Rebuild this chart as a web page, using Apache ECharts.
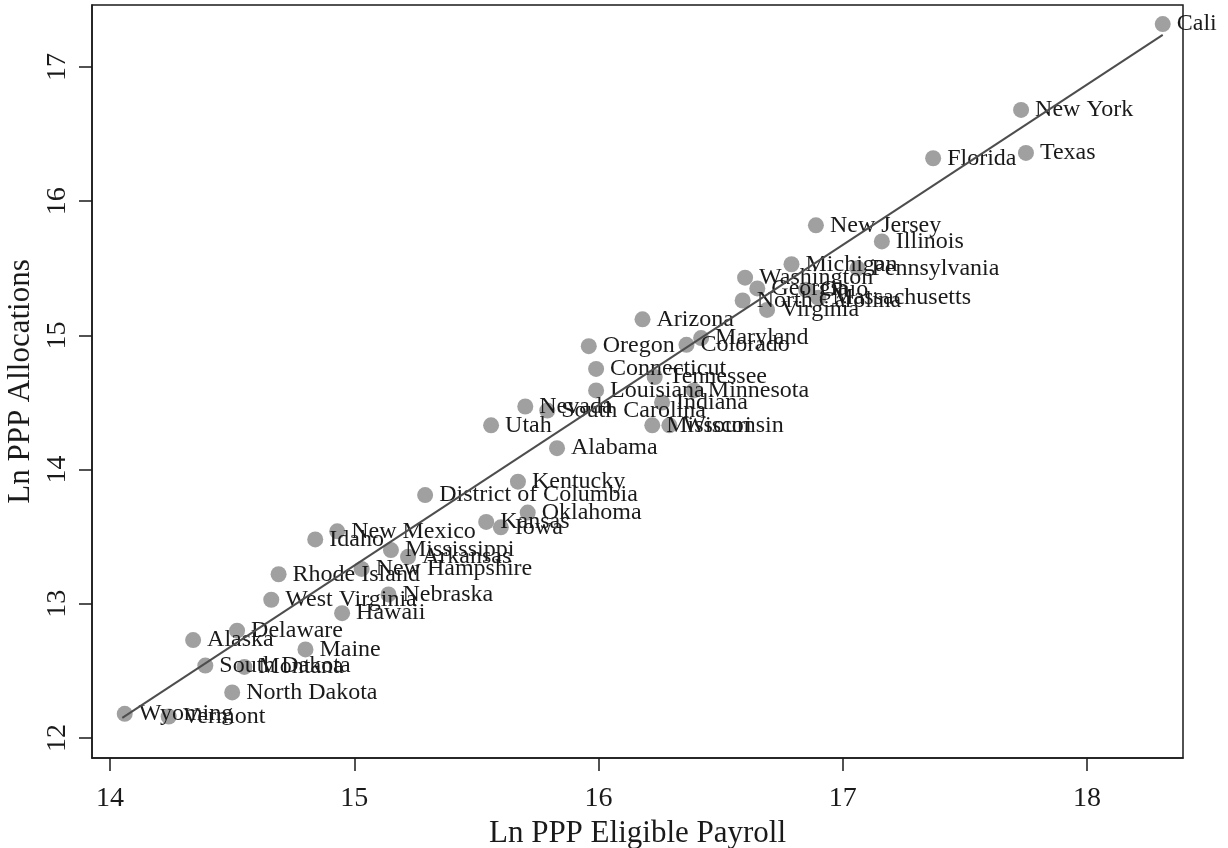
<!DOCTYPE html>
<html>
<head>
<meta charset="utf-8">
<script src="https://cdn.jsdelivr.net/npm/echarts@6/dist/echarts.min.js"></script>
<style>
  html, body { margin: 0; padding: 0; background: #fff; }
  #chart { width: 1228px; height: 848px; }
</style>
</head>
<body>
<div id="chart"></div>
<script>
// ---- data ----
const states = [
  "California", "New York", "Texas", "Florida", "New Jersey", "Illinois", "Pennsylvania",
  "Michigan", "Washington", "Georgia", "Ohio", "North Carolina", "Massachusetts", "Virginia",
  "Arizona", "Oregon", "Colorado", "Maryland", "Connecticut", "Tennessee", "Louisiana",
  "Minnesota", "Indiana", "Nevada", "South Carolina", "Utah", "Missouri", "Wisconsin",
  "Alabama", "Kentucky", "District of Columbia", "Oklahoma", "Kansas", "Iowa", "New Mexico",
  "Idaho", "Mississippi", "Arkansas", "New Hampshire", "Rhode Island", "Nebraska",
  "West Virginia", "Hawaii", "Delaware", "Alaska", "Maine", "South Dakota", "Montana",
  "North Dakota", "Wyoming", "Vermont"
];
const lnPayroll = [
  18.31, 17.73, 17.75, 17.37, 16.89, 17.16, 17.06,
  16.79, 16.60, 16.65, 16.85, 16.59, 16.90, 16.69,
  16.18, 15.96, 16.36, 16.42, 15.99, 16.23, 15.99,
  16.39, 16.26, 15.70, 15.79, 15.56, 16.22, 16.29,
  15.83, 15.67, 15.29, 15.71, 15.54, 15.60, 14.93,
  14.84, 15.15, 15.22, 15.03, 14.69, 15.14,
  14.66, 14.95, 14.52, 14.34, 14.80, 14.39, 14.55,
  14.50, 14.06, 14.24
];
const lnAllocations = [
  17.32, 16.68, 16.36, 16.32, 15.82, 15.70, 15.50,
  15.53, 15.43, 15.35, 15.34, 15.26, 15.28, 15.19,
  15.12, 14.92, 14.93, 14.98, 14.75, 14.69, 14.59,
  14.59, 14.50, 14.47, 14.44, 14.33, 14.33, 14.33,
  14.16, 13.91, 13.81, 13.68, 13.61, 13.57, 13.54,
  13.48, 13.40, 13.35, 13.26, 13.22, 13.07,
  13.03, 12.93, 12.80, 12.73, 12.66, 12.54, 12.53,
  12.34, 12.18, 12.16
];
// fitted line endpoints
const fitX = [14.05, 18.31];
const fitY = [12.15, 17.24];
const xTicks = [14, 15, 16, 17, 18];
const yTicks = [12, 13, 14, 15, 16, 17];
const xTitle = "Ln PPP Eligible Payroll";
const yTitle = "Ln PPP Allocations";

// ---- build ----
const serif = "'Liberation Serif', 'DejaVu Serif', serif";
const scatterData = states.map((s, i) => {
  const item = { name: s, value: [lnPayroll[i], lnAllocations[i]] };
  if (s === "California") {
    item.label = { width: 46, overflow: 'truncate', ellipsis: '' };
  }
  return item;
});
const fitData = fitX.map((x, i) => [x, fitY[i]]);

const chart = echarts.init(document.getElementById('chart'), null, { renderer: 'canvas' });
chart.setOption({
  animation: false,
  backgroundColor: '#ffffff',
  grid: {
    left: 92, right: 45, top: 5, bottom: 90,
    outerBoundsMode: 'none',
    containLabel: false,
    show: true, borderColor: '#1a1a1a', borderWidth: 1.5, backgroundColor: 'transparent'
  },
  xAxis: {
    type: 'value',
    min: 13.926, max: 18.393,
    name: xTitle, nameLocation: 'middle', nameGap: 55,
    nameTextStyle: { fontFamily: serif, fontSize: 31, color: '#1a1a1a' },
    axisLine: { show: true, lineStyle: { color: '#1a1a1a', width: 1.5 } },
    axisTick: { show: true, length: 13, customValues: xTicks, lineStyle: { color: '#1a1a1a', width: 1.5 } },
    axisLabel: { customValues: xTicks, margin: 27, fontFamily: serif, fontSize: 28, color: '#1a1a1a' },
    splitLine: { show: false }
  },
  yAxis: {
    type: 'value',
    min: 11.851, max: 17.462,
    name: yTitle, nameLocation: 'middle', nameGap: 54, nameRotate: 90,
    nameTextStyle: { fontFamily: serif, fontSize: 31, color: '#1a1a1a' },
    axisLine: { show: true, lineStyle: { color: '#1a1a1a', width: 1.5 } },
    axisTick: { show: true, length: 13, customValues: yTicks, lineStyle: { color: '#1a1a1a', width: 1.5 } },
    axisLabel: { customValues: yTicks, rotate: 90, margin: 20, fontFamily: serif, fontSize: 28, color: '#1a1a1a' },
    splitLine: { show: false }
  },
  series: [
    {
      type: 'scatter',
      data: scatterData,
      symbol: 'circle',
      symbolSize: 16,
      z: 2,
      itemStyle: { color: '#a0a0a0', opacity: 1 },
      label: {
        show: true,
        position: 'right',
        distance: 6,
        offset: [0, 4],
        formatter: '{b}',
        fontFamily: serif,
        fontSize: 24,
        color: '#1a1a1a'
      },
      labelLayout: { hideOverlap: false },
      emphasis: { disabled: true }
    },
    {
      type: 'line',
      data: fitData,
      symbol: 'none',
      z: 3,
      lineStyle: { color: '#4d4d4d', width: 2 },
      emphasis: { disabled: true }
    }
  ]
});
</script>
</body>
</html>
